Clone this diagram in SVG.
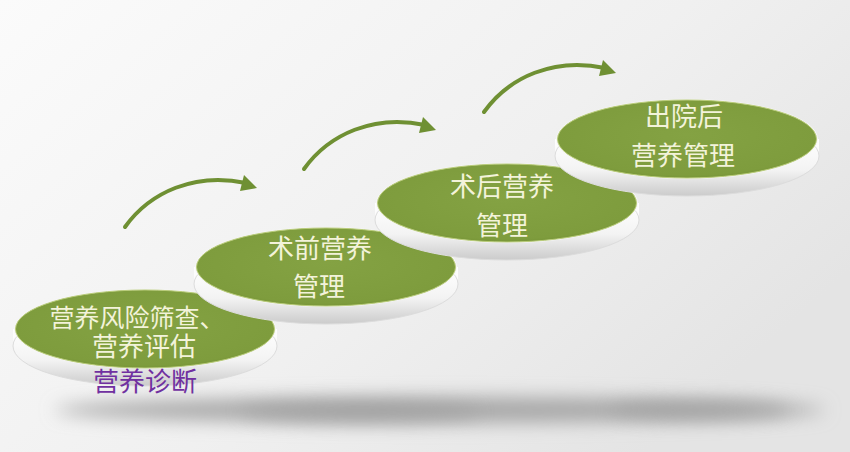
<svg xmlns="http://www.w3.org/2000/svg" xmlns:xlink="http://www.w3.org/1999/xlink" width="850" height="452" viewBox="0 0 850 452">
<style>
.lbl{font-family:"Noto Sans CJK SC","Noto Sans",sans-serif;font-size:26px;fill:#f3f3da;text-anchor:middle;}
.sm{font-size:25px;}
.sub{font-family:"Noto Sans CJK SC","Noto Sans",sans-serif;font-size:26px;fill:#7030a0;text-anchor:middle;}
.arr{fill:none;stroke:#6f9033;stroke-width:4;stroke-linecap:round;}
.head{fill:#6f9033;}
</style>
<defs>
<linearGradient id="bg" x1="0" y1="0" x2="1" y2="0.6">
<stop offset="0" stop-color="#fbfbfb"/>
<stop offset="0.6" stop-color="#f0f0f0"/>
<stop offset="1" stop-color="#e4e4e4"/>
</linearGradient>
<linearGradient id="rim" x1="0" y1="0" x2="0" y2="1">
<stop offset="0" stop-color="#ffffff"/>
<stop offset="0.55" stop-color="#f3f3f3"/>
<stop offset="1" stop-color="#cbcbcb"/>
</linearGradient>
<radialGradient id="green" cx="0.5" cy="0.45" r="0.6">
<stop offset="0" stop-color="#84a243"/>
<stop offset="0.85" stop-color="#7e9c3d"/>
<stop offset="1" stop-color="#718f31"/>
</radialGradient>
<filter id="blur" x="-0.2" y="-2" width="1.4" height="5">
<feGaussianBlur stdDeviation="9"/>
</filter>
<g id="disc">
<path d="M-132,0 L-132,17 A132,40 0 0 0 132,17 L132,0 Z" fill="url(#rim)"/>
<ellipse cx="0" cy="17" rx="132" ry="40" fill="none" stroke="#dcdcdc" stroke-width="1"/>
<ellipse cx="0" cy="0" rx="131" ry="40" fill="#f6f6f6"/>
<ellipse cx="0" cy="0" rx="129.5" ry="39" fill="url(#green)" stroke="#b9cc7a" stroke-width="1"/>
</g>
</defs>
<rect width="850" height="452" fill="url(#bg)"/>
<g id="shadow">
<ellipse cx="440" cy="410" rx="385" ry="13" fill="#a8a8a8" filter="url(#blur)"/>
<ellipse cx="360" cy="412" rx="120" ry="9" fill="#9a9a9a" opacity="0.6" filter="url(#blur)"/>
<ellipse cx="700" cy="410" rx="90" ry="9" fill="#9a9a9a" opacity="0.6" filter="url(#blur)"/>
</g>
<g id="node1">
<use xlink:href="#disc" href="#disc" x="145" y="329"/>
<text class="lbl sm" x="137" y="327">营养风险筛查、</text>
<text class="lbl" x="144" y="356">营养评估</text>
<text class="sub" x="145" y="391">营养诊断</text>
</g>
<g id="node2">
<use xlink:href="#disc" href="#disc" x="326" y="267"/>
<text class="lbl" x="320" y="258">术前营养</text>
<text class="lbl" x="319" y="296">管理</text>
</g>
<g id="node3">
<use xlink:href="#disc" href="#disc" x="507" y="203"/>
<text class="lbl" x="502" y="196">术后营养</text>
<text class="lbl" x="502" y="235">管理</text>
</g>
<g id="node4">
<use xlink:href="#disc" href="#disc" x="687" y="139"/>
<text class="lbl" x="684" y="126">出院后</text>
<text class="lbl" x="683" y="165">营养管理</text>
</g>
<g id="connectors">
<g>
<path class="arr" d="M125,227 C150,192 195,172 246,183"/>
<polygon class="head" points="244,175 257,188 240,191"/>
</g>
<g transform="translate(179,-58)">
<path class="arr" d="M125,227 C150,192 195,172 246,183"/>
<polygon class="head" points="244,175 257,188 240,191"/>
</g>
<g transform="translate(359,-115)">
<path class="arr" d="M125,227 C150,192 195,172 246,183"/>
<polygon class="head" points="244,175 257,188 240,191"/>
</g>
</g>
</svg>
